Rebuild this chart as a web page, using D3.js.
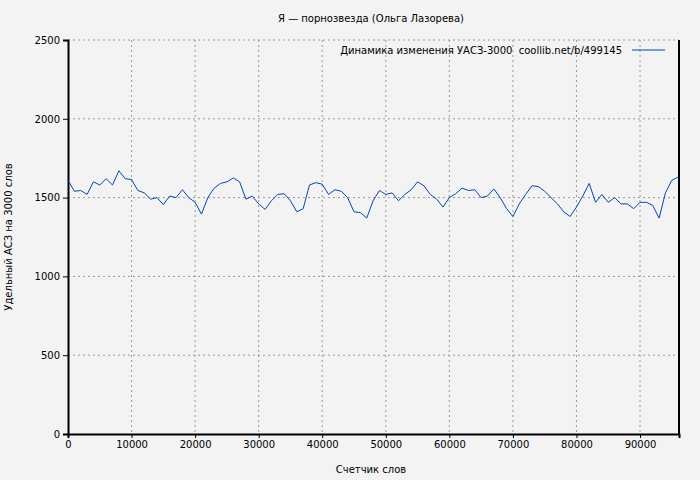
<!DOCTYPE html>
<meta charset="utf-8">
<script src="https://d3js.org/d3.v7.min.js"></script>
<style>
  body { margin: 0; background: #f3f3f3; }
  text { font-family: "DejaVu Sans", sans-serif; font-size: 10px; fill: #000; }
</style>
<div id="chart"></div>
<script>
const words = d3.range(0, 97000, 1000);
const values = [1610,1540,1545,1520,1600,1580,1620,1580,1670,1620,1615,1545,1530,1490,1500,1455,1510,1500,1550,1500,
  1470,1395,1500,1560,1590,1600,1625,1600,1490,1510,1460,1425,1480,1520,1525,1480,1410,1430,1580,1595,
  1585,1520,1550,1540,1500,1410,1405,1370,1480,1545,1520,1530,1480,1520,1550,1600,1575,1520,1490,1440,
  1500,1525,1560,1545,1550,1500,1510,1555,1500,1430,1380,1460,1520,1575,1570,1540,1500,1460,1410,1380,
  1440,1510,1590,1470,1520,1470,1500,1460,1460,1430,1470,1470,1450,1370,1530,1610,1630];
const xTicks = d3.range(0, 100000, 10000);
const yTicks = [0, 500, 1000, 1500, 2000, 2500];

const margin = {top: 40, right: 21, bottom: 46, left: 68},
      width = 700 - margin.left - margin.right,
      height = 480 - margin.top - margin.bottom;

const svg = d3.select("#chart").append("svg").attr("width", 700).attr("height", 480);
const g = svg.append("g").attr("transform", `translate(${margin.left},${margin.top})`);

const x = d3.scaleLinear().domain([0, 96130]).range([0, width]);
const y = d3.scaleLinear().domain([0, 2500]).range([height, 0]);

// grid
g.selectAll(".gx").data(xTicks.slice(1)).join("line")
  .attr("x1", d => x(d)).attr("x2", d => x(d)).attr("y1", 0).attr("y2", height)
  .attr("stroke", "#999").attr("stroke-dasharray", "2,3");
g.selectAll(".gy").data(yTicks.slice(1)).join("line")
  .attr("x1", 0).attr("x2", width).attr("y1", d => y(d)).attr("y2", d => y(d))
  .attr("stroke", "#999").attr("stroke-dasharray", "2,3");

const xa = g.append("g").attr("transform", `translate(0,${height})`)
  .call(d3.axisBottom(x).tickValues(xTicks).tickFormat(d3.format("d")).tickSize(4));
const ya = g.append("g").call(d3.axisLeft(y).tickValues(yTicks).tickFormat(d3.format("d")).tickSize(5));
[xa, ya].forEach(a => {
  a.selectAll("path,line").attr("stroke", "#000");
  a.selectAll("text").style("font-family", "DejaVu Sans").style("font-size", "10px");
  a.select(".domain").attr("stroke-width", 2);
});
g.append("line").attr("x1", width).attr("x2", width).attr("y1", 0).attr("y2", height)
  .attr("stroke", "#000").attr("stroke-width", 2);

g.append("path").datum(words.map((w, i) => [w, values[i]]))
  .attr("fill", "none").attr("stroke", "#0047b8").attr("stroke-width", 1)
  .attr("d", d3.line().x(d => x(d[0])).y(d => y(d[1])));

svg.append("text").attr("x", 371).attr("y", 22).attr("text-anchor", "middle")
  .text("Я — порнозвезда (Ольга Лазорева)");
svg.append("text").attr("x", 371).attr("y", 473).attr("text-anchor", "middle").text("Счетчик слов");
svg.append("text").attr("transform", "translate(12,237) rotate(-90)").attr("text-anchor", "middle")
  .text("Удельный АСЗ на 3000 слов");
svg.append("text").attr("x", 622).attr("y", 54).attr("text-anchor", "end").attr("xml:space", "preserve")
  .text("Динамика изменения УАСЗ-3000  coollib.net/b/499145");
svg.append("line").attr("x1", 632).attr("x2", 665).attr("y1", 50).attr("y2", 50)
  .attr("stroke", "#0047b8");
</script>
